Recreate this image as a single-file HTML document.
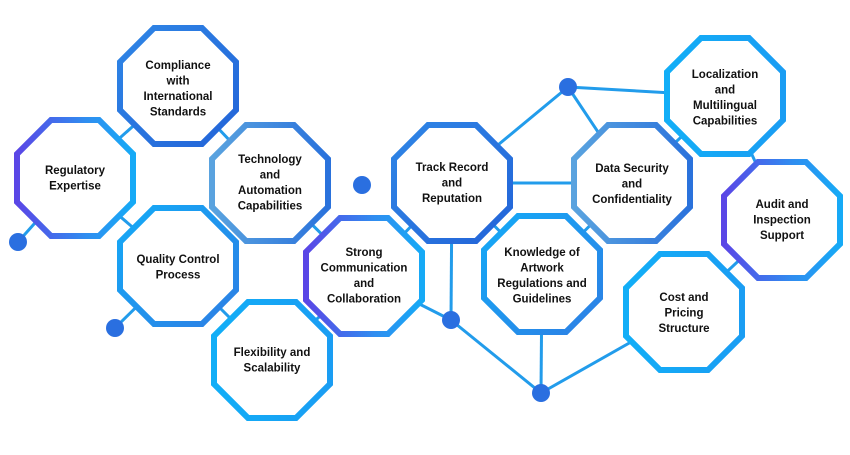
<!DOCTYPE html>
<html><head><style>
body{margin:0;background:#fff;}
svg text{font-family:"Liberation Sans",sans-serif;font-size:11.5px;fill:#111;text-anchor:middle;font-weight:bold;}
</style></head><body>
<svg width="850" height="450" viewBox="0 0 850 450" xmlns="http://www.w3.org/2000/svg">
<defs>
<linearGradient id="pc" x1="0" y1="0" x2="1" y2="0"><stop offset="0" stop-color="#5a46e6"/><stop offset="0.6" stop-color="#2f8ef0"/><stop offset="1" stop-color="#16aaf6"/></linearGradient>
<linearGradient id="bl" x1="0" y1="0" x2="1" y2="1"><stop offset="0" stop-color="#2f86e6"/><stop offset="1" stop-color="#2364d8"/></linearGradient>
<linearGradient id="lb" x1="0" y1="0" x2="1" y2="0"><stop offset="0" stop-color="#5aa3df"/><stop offset="1" stop-color="#2a72dc"/></linearGradient>
<linearGradient id="cy" x1="0" y1="0" x2="1" y2="1"><stop offset="0" stop-color="#14aaf7"/><stop offset="1" stop-color="#2d7fe4"/></linearGradient>
<linearGradient id="cy2" x1="0" y1="0" x2="1" y2="0"><stop offset="0" stop-color="#12aef7"/><stop offset="1" stop-color="#1a9df3"/></linearGradient>
<polygon id="oct" points="-24,-58 24,-58 58,-24 58,24 24,58 -24,58 -58,24 -58,-24"/>
</defs>
<g stroke="#229ceb" stroke-width="3">
<line x1="75" y1="178" x2="178" y2="86"/>
<line x1="178" y1="86" x2="270" y2="183"/>
<line x1="75" y1="178" x2="178" y2="266"/>
<line x1="75" y1="178" x2="18" y2="242"/>
<line x1="178" y1="266" x2="115" y2="328"/>
<line x1="178" y1="266" x2="272" y2="360"/>
<line x1="270" y1="183" x2="364" y2="276"/>
<line x1="364" y1="276" x2="272" y2="360"/>
<line x1="364" y1="276" x2="452" y2="183"/>
<line x1="364" y1="276" x2="451" y2="320"/>
<line x1="452" y1="183" x2="451" y2="320"/>
<line x1="451" y1="320" x2="541" y2="393"/>
<line x1="542" y1="274" x2="541" y2="393"/>
<line x1="684" y1="312" x2="541" y2="393"/>
<line x1="452" y1="183" x2="542" y2="274"/>
<line x1="452" y1="183" x2="632" y2="183"/>
<line x1="452" y1="183" x2="568" y2="87"/>
<line x1="568" y1="87" x2="632" y2="183"/>
<line x1="568" y1="87" x2="725" y2="96"/>
<line x1="725" y1="96" x2="632" y2="183"/>
<line x1="725" y1="96" x2="782" y2="220"/>
<line x1="782" y1="220" x2="684" y2="312"/>
<line x1="542" y1="274" x2="632" y2="183"/>
</g>
<g fill="#2a6fe0">
<circle cx="18" cy="242" r="9"/><circle cx="115" cy="328" r="9"/><circle cx="362" cy="185" r="9"/>
<circle cx="568" cy="87" r="9"/><circle cx="451" cy="320" r="9"/><circle cx="541" cy="393" r="9"/>
</g>
<g fill="#fff" stroke-width="6">
<use href="#oct" x="178" y="86" stroke="url(#bl)"/>
<use href="#oct" x="75" y="178" stroke="url(#pc)"/>
<use href="#oct" x="270" y="183" stroke="url(#lb)"/>
<use href="#oct" x="178" y="266" stroke="url(#cy)"/>
<use href="#oct" x="272" y="360" stroke="url(#cy2)"/>
<use href="#oct" x="364" y="276" stroke="url(#pc)"/>
<use href="#oct" x="452" y="183" stroke="url(#bl)"/>
<use href="#oct" x="632" y="183" stroke="url(#lb)"/>
<use href="#oct" x="542" y="274" stroke="url(#cy)"/>
<use href="#oct" x="725" y="96" stroke="url(#cy2)"/>
<use href="#oct" x="782" y="220" stroke="url(#pc)"/>
<use href="#oct" x="684" y="312" stroke="url(#cy2)"/>
</g>
<text x="178" y="69">Compliance<tspan x="178" dy="15.5">with</tspan><tspan x="178" dy="15.5">International</tspan><tspan x="178" dy="15.5">Standards</tspan></text>
<text x="75" y="174">Regulatory<tspan x="75" dy="15.5">Expertise</tspan></text>
<text x="270" y="163">Technology<tspan x="270" dy="15.5">and</tspan><tspan x="270" dy="15.5">Automation</tspan><tspan x="270" dy="15.5">Capabilities</tspan></text>
<text x="178" y="263">Quality Control<tspan x="178" dy="15.5">Process</tspan></text>
<text x="272" y="356">Flexibility and<tspan x="272" dy="15.5">Scalability</tspan></text>
<text x="364" y="256">Strong<tspan x="364" dy="15.5">Communication</tspan><tspan x="364" dy="15.5">and</tspan><tspan x="364" dy="15.5">Collaboration</tspan></text>
<text x="452" y="171">Track Record<tspan x="452" dy="15.5">and</tspan><tspan x="452" dy="15.5">Reputation</tspan></text>
<text x="632" y="172">Data Security<tspan x="632" dy="15.5">and</tspan><tspan x="632" dy="15.5">Confidentiality</tspan></text>
<text x="542" y="256">Knowledge of<tspan x="542" dy="15.5">Artwork</tspan><tspan x="542" dy="15.5">Regulations and</tspan><tspan x="542" dy="15.5">Guidelines</tspan></text>
<text x="725" y="78">Localization<tspan x="725" dy="15.5">and</tspan><tspan x="725" dy="15.5">Multilingual</tspan><tspan x="725" dy="15.5">Capabilities</tspan></text>
<text x="782" y="208">Audit and<tspan x="782" dy="15.5">Inspection</tspan><tspan x="782" dy="15.5">Support</tspan></text>
<text x="684" y="301">Cost and<tspan x="684" dy="15.5">Pricing</tspan><tspan x="684" dy="15.5">Structure</tspan></text>
</svg>
</body></html>
